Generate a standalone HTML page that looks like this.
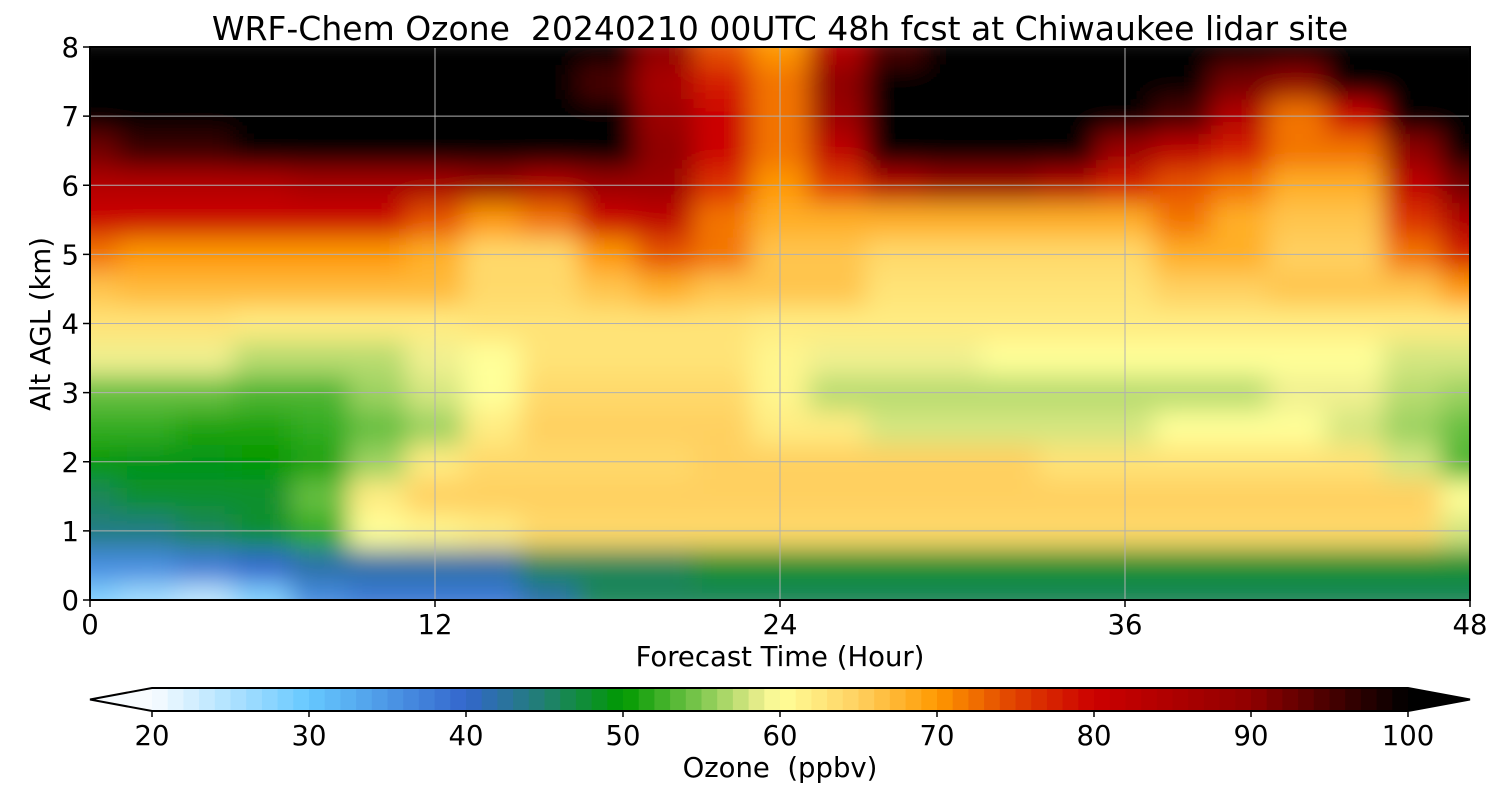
<!DOCTYPE html>
<html><head><meta charset="utf-8"><style>
body{margin:0;background:#fff;}
svg{display:block;font-family:"DejaVu Sans","Liberation Sans",sans-serif;}
</style></head><body>
<svg id="chart" width="1500" height="800">
<defs>
<clipPath id="plotclip"><rect x="90" y="47" width="1380" height="553"/></clipPath>
<filter id="smooth" x="-5%" y="-5%" width="110%" height="110%"><feGaussianBlur stdDeviation="13" edgeMode="duplicate"/></filter>
</defs>
<g clip-path="url(#plotclip)"><g id="cells" filter="url(#smooth)"></g></g>
<g id="grid"></g>
<rect x="90" y="47" width="1380" height="553" fill="none" stroke="#000" stroke-width="2"/>
<g id="axes"></g>
<text x="780" y="40" font-size="33" text-anchor="middle" xml:space="preserve">WRF-Chem Ozone  20240210 00UTC 48h fcst at Chiwaukee lidar site</text>
<text x="780" y="666" font-size="27.5" text-anchor="middle">Forecast Time (Hour)</text>
<text transform="translate(50,324) rotate(-90)" font-size="27.5" text-anchor="middle">Alt AGL (km)</text>
<g id="cbar"></g>
<text x="780" y="777" font-size="27.5" text-anchor="middle" xml:space="preserve">Ozone  (ppbv)</text>
</svg>
<script>
const hours=[0,2,4,6,8,10,12,14,16,18,20,22,24,26,28,30,32,34,36,38,40,42,44,46,48];
const alts=[0,0.5,1,1.5,2,2.5,3,3.5,4,4.5,5,5.5,6,6.5,7,7.5,8];
const ozone=[
[28,26,24,28,36,38,38,38,42,46,46,46,46,46,46,46,46,46,46,46,46,46,46,46,46],
[36,36,38,40,42,42,42,42,46,46,46,48,48,48,48,48,48,48,48,48,48,48,48,48,48],
[44,44,46,48,52,60,61,62,64,64,64,64,64,64,64,64,64,64,64,64,64,64,64,64,58],
[46,48,48,48,54,62,65,65,65,65,65,65,65,65,65,65,65,65,65,65,65,65,65,65,60],
[50,49,49,50,51,56,62,64,64,64,64,65,65,65,65,65,65,63,63,63,63,63,63,58,53],
[52,52,51,51,52,54,56,62,65,65,65,65,62,62,58,58,58,58,58,60,60,60,58,56,54],
[54,54,54,53,53,56,58,60,64,64,64,64,61,57,57,57,57,57,57,57,57,59,59,57,56],
[59,59,59,57,57,57,59,60,63,63,63,63,61,59,59,59,60,60,60,60,60,60,60,58,58],
[63,63,63,62,62,62,62,63,63,63,63,63,62,62,62,62,62,62,62,62,62,62,62,62,62],
[66,67,67,67,67,67,67,64,64,66,68,66,66,66,63,63,63,63,63,65,65,66,66,66,70],
[72,70,70,70,70,70,68,64,64,70,74,72,66,66,64,64,64,64,64,68,68,65,65,72,78],
[80,80,80,80,80,80,74,70,72,80,82,72,68,68,68,68,68,68,68,72,68,66,66,76,85],
[84,84,84,84,86,86,86,88,84,88,88,76,70,75,84,88,88,84,78,74,72,68,68,82,92],
[92,96,96,100,100,100,100,100,100,100,90,80,72,82,100,100,100,100,88,82,78,72,72,90,100],
[100,100,100,100,100,100,100,100,100,100,88,80,72,88,100,100,100,100,100,95,84,72,80,100,100],
[100,100,100,100,100,100,100,100,100,95,86,78,72,90,100,100,100,100,100,100,92,90,100,100,100],
[100,100,100,100,100,100,100,100,100,100,90,74,70,84,95,100,100,100,100,100,100,100,100,100,100]];
const xTicks=[0,12,24,36,48];
const yTicks=[0,1,2,3,4,5,6,7,8];
const cbTicks=[20,30,40,50,60,70,80,90,100];
const stops=[[20,[248,252,255]],[30,[102,200,255]],[40,[51,102,204]],[45,[32,128,112]],[50,[0,153,0]],[55,[128,200,80]],[59,[240,240,144]],[60,[255,255,153]],[65,[255,208,96]],[70,[255,153,0]],[75,[224,64,0]],[80,[204,0,0]],[90,[144,0,0]],[100,[0,0,0]]];
function cmap(v){v=Math.max(20,Math.min(100,v));for(let i=1;i<stops.length;i++){if(v<=stops[i][0]){const a=stops[i-1],b=stops[i],t=(v-a[0])/(b[0]-a[0]);return 'rgb('+a[1].map((c,k)=>Math.round(c+(b[1][k]-c)*t)).join(',')+')';}}return 'rgb(0,0,0)';}
const X=h=>90+h/48*1380, Y=a=>600-a/8*553, C=v=>152+(v-20)/80*1256;
const NS='http://www.w3.org/2000/svg';
function mk(tag,at,parent){const e=document.createElementNS(NS,tag);for(const k in at)e.setAttribute(k,at[k]);parent.appendChild(e);return e;}
const cells=document.getElementById('cells');
const dx=X(2)-X(0), dy=Y(0)-Y(0.5);
alts.forEach((a,i)=>hours.forEach((h,j)=>{
 const r=mk('rect',{x:X(h)-dx/2-0.5,y:Y(a)-dy/2-0.5,width:dx+1,height:dy+1,fill:cmap(ozone[i][j])},cells);
 
 
}));
const grid=document.getElementById('grid'), axes=document.getElementById('axes');
xTicks.forEach(t=>{
 if(t>0&&t<48){const l=mk('line',{x1:X(t),x2:X(t),y1:47,y2:600,stroke:'#b0b0b0','stroke-width':1},grid);}
 mk('line',{x1:X(t),x2:X(t),y1:600,y2:607,stroke:'#000','stroke-width':1.5},axes);
 const tx=mk('text',{x:X(t),y:634,'font-size':27.5,'text-anchor':'middle'},axes);tx.textContent=t;
 
 
});
yTicks.forEach(t=>{
 if(t>0&&t<8){const l=mk('line',{x1:90,x2:1470,y1:Y(t),y2:Y(t),stroke:'#b0b0b0','stroke-width':1},grid);}
 mk('line',{x1:83,x2:90,y1:Y(t),y2:Y(t),stroke:'#000','stroke-width':1.5},axes);
 const tx=mk('text',{x:79,y:Y(t)+10,'font-size':27.5,'text-anchor':'end'},axes);tx.textContent=t;
 
 
});
const cb=document.getElementById('cbar');
for(let v=20;v<100;v+=1){const r=mk('rect',{x:C(v),y:688,width:C(v+1)-C(v)+0.5,height:23,fill:cmap(v+0.5)},cb);}
mk('polygon',{points:'152,688 90,699.5 152,711',fill:cmap(20)},cb);
mk('polygon',{points:'1408,688 1470,699.5 1408,711',fill:'#000'},cb);
mk('polygon',{points:'152,688 1408,688 1470,699.5 1408,711 152,711 90,699.5',fill:'none',stroke:'#000','stroke-width':2},cb);
cbTicks.forEach(t=>{mk('line',{x1:C(t),x2:C(t),y1:711,y2:717,stroke:'#000','stroke-width':1.5},cb);
 const tx=mk('text',{x:C(t),y:745,'font-size':27.5,'text-anchor':'middle'},cb);tx.textContent=t;
 
 });
</script>
</body></html>
